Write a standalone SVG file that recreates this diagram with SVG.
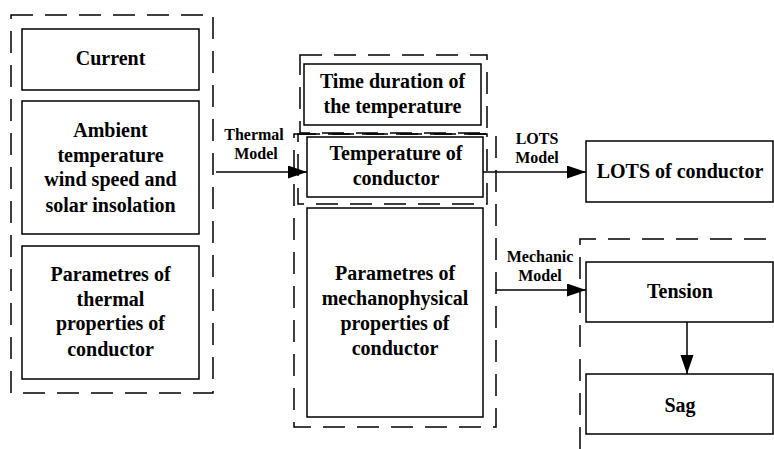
<svg xmlns="http://www.w3.org/2000/svg" width="774" height="449" viewBox="0 0 774 449">
  <style>
    .box { fill: #fff; stroke: #000; stroke-width: 1.5; }
    .grp { fill: none; stroke: #000; stroke-width: 1.5; stroke-dasharray: 22 12; }
    .t { font-family: 'Liberation Serif', 'DejaVu Serif', serif; font-weight: 700; font-size: 20px; text-anchor: middle; fill: #000; }
    .lbl { font-family: 'Liberation Serif', 'DejaVu Serif', serif; font-weight: 700; font-size: 16px; text-anchor: middle; fill: #000; }
    .wire { fill: none; stroke: #000; stroke-width: 1.5; }
  </style>
  <defs>
    <marker id="arrow" markerUnits="userSpaceOnUse" markerWidth="20" markerHeight="14" refX="19" refY="6.5" orient="auto">
      <path d="M0,0 L19,6.5 L0,13 Z" fill="#000"/>
    </marker>
  </defs>
  <rect width="774" height="449" fill="#fff"/>

  <!-- input group: thermal inputs -->
  <g id="inputs-group">
    <rect class="grp" x="11" y="15" width="202" height="378"/>
  </g>
  <g id="current">
    <rect class="box" x="22" y="29" width="177" height="61"/>
    <text class="t" x="110.5" y="65">Current</text>
  </g>
  <g id="ambient">
    <rect class="box" x="22" y="101" width="177" height="133"/>
    <text class="t" x="110.5" y="137">Ambient</text>
    <text class="t" x="110.5" y="162">temperature</text>
    <text class="t" x="110.5" y="186">wind speed and</text>
    <text class="t" x="110.5" y="212">solar insolation</text>
  </g>
  <g id="thermal-params">
    <rect class="box" x="22" y="246" width="177" height="133"/>
    <text class="t" x="110.5" y="281">Parametres of</text>
    <text class="t" x="110.5" y="306">thermal</text>
    <text class="t" x="110.5" y="330">properties of</text>
    <text class="t" x="110.5" y="356">conductor</text>
  </g>

  <!-- middle groups -->
  <g id="duration-group">
    <rect class="grp" x="300" y="55" width="187" height="78"/>
  </g>
  <g id="conductor-group">
    <rect class="grp" x="294" y="134" width="202" height="293"/>
  </g>
  <g id="temperature-group">
    <rect class="grp" x="298" y="134" width="189" height="70"/>
  </g>
  <g id="duration">
    <rect class="box" x="304" y="64" width="177" height="61"/>
    <text class="t" x="392.5" y="88">Time duration of</text>
    <text class="t" x="392.5" y="113">the temperature</text>
  </g>
  <g id="temperature">
    <rect class="box" x="307" y="137" width="176" height="60"/>
    <text class="t" x="396" y="160">Temperature of</text>
    <text class="t" x="396" y="185">conductor</text>
  </g>
  <g id="mech-params">
    <rect class="box" x="307" y="208" width="176" height="209"/>
    <text class="t" x="395" y="280">Parametres of</text>
    <text class="t" x="395" y="305">mechanophysical</text>
    <text class="t" x="395" y="330">properties of</text>
    <text class="t" x="395" y="355">conductor</text>
  </g>

  <!-- outputs -->
  <g id="lots">
    <rect class="box" x="586" y="141" width="187" height="61"/>
    <text class="t" x="680" y="178">LOTS of conductor</text>
  </g>
  <g id="mechanic-group">
    <path class="grp" d="M580,449 V239 H774"/>
  </g>
  <g id="tension">
    <rect class="box" x="586" y="262" width="187" height="60"/>
    <text class="t" x="680" y="298">Tension</text>
  </g>
  <g id="sag">
    <rect class="box" x="586" y="374" width="187" height="60"/>
    <text class="t" x="680" y="412">Sag</text>
  </g>

  <!-- connectors -->
  <g id="connectors">
    <line class="wire" x1="216" y1="172" x2="307" y2="172" marker-end="url(#arrow)"/>
    <text class="lbl" x="254" y="140">Thermal</text>
    <text class="lbl" x="256" y="159">Model</text>
    <line class="wire" x1="483" y1="172" x2="586" y2="172" marker-end="url(#arrow)"/>
    <text class="lbl" x="537" y="144">LOTS</text>
    <text class="lbl" x="537" y="163">Model</text>
    <line class="wire" x1="496" y1="290" x2="586" y2="290" marker-end="url(#arrow)"/>
    <text class="lbl" x="540" y="262">Mechanic</text>
    <text class="lbl" x="540" y="281">Model</text>
    <line class="wire" x1="687" y1="322" x2="687" y2="374" marker-end="url(#arrow)"/>
  </g>
</svg>
